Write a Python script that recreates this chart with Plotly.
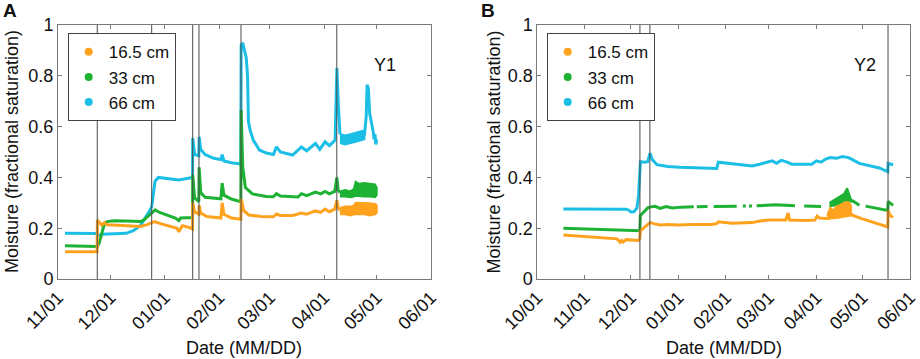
import plotly.graph_objects as go

# ---------------- colours ----------------
C16 = "#FFA31F"
C33 = "#1DB233"
C66 = "#1BBFE5"
VLINE = "#4a4a4a"
FONT = "Liberation Sans, Arial, Helvetica, sans-serif"

labels = ["16.5 cm", "33 cm", "66 cm"]
y_tickvals = [0, 0.2, 0.4, 0.6, 0.8, 1.0]
y_ticktext = ["0", "0.2", "0.4", "0.6", "0.8", "1"]

# ---------------- Y1 (panel A) ----------------
y1_months = ["2019-11-01", "2019-12-01", "2020-01-01", "2020-02-01", "2020-03-01",
             "2020-04-01", "2020-05-01", "2020-06-01"]
y1_events = ["2019-11-23 10:00", "2019-12-24 12:00", "2020-01-16 22:00",
             "2020-01-20 12:00", "2020-02-13 12:00", "2020-04-08 05:00"]

y1_16 = [("2019-11-05", 0.107), ("2019-11-23 08:00", 0.107), ("2019-11-23 12:00", 0.232),
         ("2019-11-24 12:00", 0.222), ("2019-11-26", 0.212), ("2019-11-27 12:00", 0.222),
         ("2019-11-29", 0.214), ("2019-12-05", 0.212), ("2019-12-12", 0.208), ("2019-12-18", 0.207),
         ("2019-12-22", 0.214), ("2019-12-24 12:00", 0.222), ("2019-12-26", 0.226),
         ("2019-12-30", 0.217), ("2020-01-04", 0.208), ("2020-01-08", 0.20), ("2020-01-09", 0.186),
         ("2020-01-10", 0.20), ("2020-01-11", 0.21), ("2020-01-14", 0.205), ("2020-01-16 20:00", 0.197),
         ("2020-01-16 22:00", 0.30), ("2020-01-18", 0.265), ("2020-01-20 10:00", 0.255),
         ("2020-01-20 14:00", 0.29), ("2020-01-21 12:00", 0.26), ("2020-01-25", 0.246),
         ("2020-02-02", 0.24), ("2020-02-02 18:00", 0.30), ("2020-02-03 18:00", 0.255),
         ("2020-02-08", 0.24), ("2020-02-13 10:00", 0.235), ("2020-02-13 14:00", 0.315),
         ("2020-02-15", 0.27), ("2020-02-18", 0.252), ("2020-02-25", 0.246), ("2020-03-03", 0.245),
         ("2020-03-04 18:00", 0.256), ("2020-03-07", 0.25), ("2020-03-14", 0.25), ("2020-03-19", 0.26),
         ("2020-03-22", 0.255), ("2020-03-27", 0.268), ("2020-03-30", 0.262), ("2020-04-01 12:00", 0.275),
         ("2020-04-04", 0.265), ("2020-04-07", 0.275), ("2020-04-08 06:00", 0.31), ("2020-04-09", 0.28),
         ("2020-04-10", 0.27)]
y1_33 = [("2019-11-05", 0.131), ("2019-11-23 08:00", 0.128), ("2019-11-24 12:00", 0.14),
         ("2019-11-25 12:00", 0.165), ("2019-11-26 12:00", 0.20), ("2019-11-27 12:00", 0.218),
         ("2019-11-29", 0.226), ("2019-12-03", 0.229), ("2019-12-10", 0.228), ("2019-12-18", 0.226),
         ("2019-12-20", 0.232), ("2019-12-22", 0.245), ("2019-12-24 12:00", 0.262),
         ("2019-12-26 12:00", 0.272), ("2019-12-29", 0.262), ("2020-01-02", 0.252), ("2020-01-07", 0.24),
         ("2020-01-09", 0.23), ("2020-01-10", 0.24), ("2020-01-16 20:00", 0.242),
         ("2020-01-16 22:00", 0.41), ("2020-01-18", 0.32), ("2020-01-20 10:00", 0.305),
         ("2020-01-20 14:00", 0.44), ("2020-01-21 12:00", 0.34), ("2020-01-24", 0.322),
         ("2020-02-02", 0.316), ("2020-02-02 18:00", 0.377), ("2020-02-03 18:00", 0.33),
         ("2020-02-08", 0.315), ("2020-02-13 10:00", 0.304), ("2020-02-13 14:00", 0.665),
         ("2020-02-14 12:00", 0.44), ("2020-02-16", 0.36), ("2020-02-20", 0.335), ("2020-02-28", 0.325),
         ("2020-03-03", 0.324), ("2020-03-04 18:00", 0.336), ("2020-03-07", 0.327), ("2020-03-17", 0.323),
         ("2020-03-19", 0.336), ("2020-03-22", 0.328), ("2020-03-27", 0.342), ("2020-03-30", 0.335),
         ("2020-04-01 12:00", 0.345), ("2020-04-04", 0.335), ("2020-04-07", 0.345),
         ("2020-04-08 06:00", 0.40), ("2020-04-09", 0.35), ("2020-04-10", 0.34)]
y1_66 = [("2019-11-05", 0.18), ("2019-11-15", 0.18), ("2019-11-23", 0.179), ("2019-11-24", 0.172),
         ("2019-11-26", 0.176), ("2019-12-10", 0.18), ("2019-12-14", 0.19), ("2019-12-18", 0.21),
         ("2019-12-21", 0.24), ("2019-12-23", 0.265), ("2019-12-24 12:00", 0.285),
         ("2019-12-25 12:00", 0.34), ("2019-12-26 10:00", 0.385), ("2019-12-28 08:00", 0.40),
         ("2020-01-05", 0.395), ("2020-01-09", 0.39), ("2020-01-16 20:00", 0.40),
         ("2020-01-16 22:00", 0.555), ("2020-01-18", 0.49), ("2020-01-20 10:00", 0.485),
         ("2020-01-20 14:00", 0.56), ("2020-01-21 12:00", 0.51), ("2020-01-24", 0.49),
         ("2020-01-29", 0.475), ("2020-02-02", 0.47), ("2020-02-02 18:00", 0.49),
         ("2020-02-03 18:00", 0.465), ("2020-02-08", 0.458), ("2020-02-13 10:00", 0.453),
         ("2020-02-13 14:00", 0.92), ("2020-02-14 12:00", 0.93), ("2020-02-15 12:00", 0.905),
         ("2020-02-16 12:00", 0.87), ("2020-02-17 06:00", 0.80), ("2020-02-17 18:00", 0.62),
         ("2020-02-18 16:00", 0.587), ("2020-02-20 12:00", 0.547), ("2020-02-24", 0.508),
         ("2020-02-28", 0.496), ("2020-03-03", 0.49), ("2020-03-04 18:00", 0.52), ("2020-03-07", 0.50),
         ("2020-03-14", 0.488), ("2020-03-19", 0.52), ("2020-03-22", 0.505), ("2020-03-27", 0.534),
         ("2020-03-29 12:00", 0.51), ("2020-04-01 12:00", 0.54), ("2020-04-04", 0.525),
         ("2020-04-07 06:00", 0.547), ("2020-04-08 06:00", 0.83), ("2020-04-09", 0.70),
         ("2020-04-10", 0.57)]
y1_66_tail = [("2020-04-24", 0.565), ("2020-04-25", 0.64), ("2020-04-25 12:00", 0.765),
              ("2020-04-26 06:00", 0.75), ("2020-04-27", 0.65), ("2020-04-28", 0.62),
              ("2020-04-29", 0.58), ("2020-04-29 12:00", 0.55), ("2020-04-30", 0.57),
              ("2020-04-30 12:00", 0.53), ("2020-05-01", 0.55)]

# noisy bands (date, lower, upper)
y1_16_band = [("2020-04-10", 0.255, 0.28), ("2020-04-13", 0.255, 0.285), ("2020-04-16", 0.25, 0.285),
              ("2020-04-18", 0.255, 0.29), ("2020-04-19", 0.255, 0.30), ("2020-04-21", 0.255, 0.30),
              ("2020-04-24", 0.255, 0.30), ("2020-04-27", 0.25, 0.298), ("2020-04-30", 0.255, 0.295),
              ("2020-05-01", 0.26, 0.29)]
y1_33_band = [("2020-04-10", 0.325, 0.345), ("2020-04-13", 0.325, 0.35), ("2020-04-16", 0.322, 0.345),
              ("2020-04-18", 0.325, 0.355), ("2020-04-19", 0.328, 0.383), ("2020-04-21", 0.326, 0.375),
              ("2020-04-24", 0.325, 0.378), ("2020-04-27", 0.325, 0.375), ("2020-04-30", 0.322, 0.372),
              ("2020-05-01", 0.33, 0.36)]
y1_66_band = [("2020-04-10", 0.535, 0.57), ("2020-04-13", 0.53, 0.565), ("2020-04-16", 0.535, 0.57),
              ("2020-04-19", 0.54, 0.575), ("2020-04-22", 0.545, 0.58), ("2020-04-24", 0.55, 0.585)]

# ---------------- Y2 (panel B) ----------------
y2_months = ["2020-10-01", "2020-11-01", "2020-12-01", "2021-01-01", "2021-02-01", "2021-03-01",
             "2021-04-01", "2021-05-01", "2021-06-01"]
y2_events = ["2020-12-06 22:00", "2020-12-13 10:00", "2021-05-17 16:00"]

y2_16 = [("2020-10-18", 0.173), ("2020-11-01", 0.168), ("2020-11-15", 0.162), ("2020-11-22", 0.158),
         ("2020-11-24", 0.145), ("2020-11-25", 0.152), ("2020-11-26", 0.146), ("2020-11-28", 0.155),
         ("2020-12-06", 0.152), ("2020-12-06 20:00", 0.16), ("2020-12-07 04:00", 0.19),
         ("2020-12-09", 0.20), ("2020-12-12", 0.215), ("2020-12-13 12:00", 0.222), ("2020-12-16", 0.218),
         ("2020-12-20", 0.213), ("2020-12-25", 0.215), ("2021-01-01", 0.213), ("2021-01-10", 0.215),
         ("2021-01-22", 0.215), ("2021-01-26", 0.218), ("2021-01-27", 0.225), ("2021-02-05", 0.22),
         ("2021-02-18", 0.222), ("2021-02-23", 0.228), ("2021-03-01", 0.232), ("2021-03-12", 0.232),
         ("2021-03-13 12:00", 0.26), ("2021-03-14 12:00", 0.232), ("2021-03-25", 0.23),
         ("2021-03-31", 0.232), ("2021-04-01 12:00", 0.248), ("2021-04-03", 0.24), ("2021-04-08", 0.238)]
y2_16_tail = [("2021-04-23 12:00", 0.26), ("2021-04-24", 0.252), ("2021-05-01", 0.237),
              ("2021-05-10", 0.218), ("2021-05-17 12:00", 0.205), ("2021-05-17 18:00", 0.27),
              ("2021-05-19", 0.25), ("2021-05-21", 0.243)]
y2_33 = [("2020-10-18", 0.20), ("2020-11-10", 0.196), ("2020-12-01", 0.192), ("2020-12-06 20:00", 0.19),
         ("2020-12-07 04:00", 0.25), ("2020-12-09", 0.262), ("2020-12-12", 0.28), ("2020-12-14", 0.284),
         ("2020-12-17", 0.286), ("2020-12-20", 0.278), ("2020-12-24", 0.285), ("2020-12-28", 0.28),
         ("2021-01-03", 0.283), ("2021-01-11", 0.284), None, ("2021-01-13", 0.284),
         ("2021-01-20", 0.285), None, ("2021-01-24", 0.285), ("2021-02-08", 0.286), None,
         ("2021-02-12", 0.287), ("2021-02-14", 0.287), None, ("2021-02-16", 0.287),
         ("2021-02-18", 0.287), None, ("2021-02-21", 0.288), ("2021-03-05", 0.292),
         ("2021-03-18", 0.288), None, ("2021-03-24", 0.287), ("2021-04-04", 0.285), None,
         ("2021-04-09 12:00", 0.29)]
y2_33_tail = [("2021-04-24", 0.31), ("2021-04-29", 0.29), None, ("2021-05-03", 0.287),
              ("2021-05-10", 0.278), ("2021-05-17 12:00", 0.27), ("2021-05-17 18:00", 0.305),
              ("2021-05-21", 0.29)]
y2_66 = [("2020-10-18", 0.276), ("2020-11-15", 0.275), ("2020-11-28", 0.275), ("2020-11-30", 0.27),
         ("2020-12-01", 0.264), ("2020-12-03", 0.265), ("2020-12-05", 0.28), ("2020-12-06", 0.33),
         ("2020-12-06 20:00", 0.42), ("2020-12-07 06:00", 0.462), ("2020-12-10", 0.46),
         ("2020-12-12", 0.462), ("2020-12-13 12:00", 0.495), ("2020-12-15", 0.47), ("2020-12-18", 0.45),
         ("2020-12-25", 0.443), ("2021-01-02", 0.44), ("2021-01-15", 0.437), ("2021-01-26", 0.435),
         ("2021-01-27", 0.46), ("2021-02-03", 0.455), ("2021-02-18", 0.445), ("2021-02-23", 0.452),
         ("2021-02-27", 0.46), ("2021-03-03", 0.465), ("2021-03-06", 0.456), ("2021-03-09", 0.467),
         ("2021-03-12", 0.462), ("2021-03-16", 0.452), ("2021-03-29", 0.452), ("2021-04-01", 0.465),
         ("2021-04-04", 0.46), ("2021-04-07", 0.472), ("2021-04-10", 0.478), ("2021-04-14", 0.475),
         ("2021-04-18", 0.482), ("2021-04-22", 0.478), ("2021-04-29", 0.455), ("2021-05-07", 0.445),
         ("2021-05-12", 0.437), ("2021-05-17 12:00", 0.422), ("2021-05-17 18:00", 0.455),
         ("2021-05-21", 0.45)]
y2_16_band = [("2021-04-08", 0.235, 0.25), ("2021-04-10", 0.238, 0.28), ("2021-04-12", 0.24, 0.27),
              ("2021-04-14", 0.24, 0.285), ("2021-04-16", 0.242, 0.29), ("2021-04-18", 0.245, 0.298),
              ("2021-04-20", 0.245, 0.303), ("2021-04-22", 0.248, 0.302), ("2021-04-23 12:00", 0.25, 0.29)]
y2_33_band = [("2021-04-09 12:00", 0.285, 0.30), ("2021-04-12", 0.29, 0.31), ("2021-04-15", 0.292, 0.32),
              ("2021-04-17", 0.295, 0.33), ("2021-04-19", 0.30, 0.335), ("2021-04-21", 0.30, 0.357),
              ("2021-04-22", 0.305, 0.34), ("2021-04-23", 0.305, 0.32), ("2021-04-24", 0.305, 0.31)]


def unzip(pts):
    xs = [p[0] if p is not None else None for p in pts]
    ys = [p[1] if p is not None else None for p in pts]
    return xs, ys


fig = go.Figure()


def add_line(pts, color, ax):
    xs, ys = unzip(pts)
    fig.add_trace(go.Scatter(x=xs, y=ys, mode="lines", line=dict(color=color, width=3),
                             xaxis="x" if ax == 1 else "x2", yaxis="y" if ax == 1 else "y2",
                             showlegend=False, hoverinfo="skip"))


def add_band(rows, color, ax):
    d = [r[0] for r in rows]
    lo = [r[1] for r in rows]
    hi = [r[2] for r in rows]
    fig.add_trace(go.Scatter(x=d + d[::-1], y=hi + lo[::-1], mode="lines", fill="toself",
                             fillcolor=color, line=dict(color=color, width=2),
                             xaxis="x" if ax == 1 else "x2", yaxis="y" if ax == 1 else "y2",
                             showlegend=False, hoverinfo="skip"))


# panel A
add_line(y1_66, C66, 1); add_band(y1_66_band, C66, 1); add_line(y1_66_tail, C66, 1)
add_line(y1_33, C33, 1); add_band(y1_33_band, C33, 1)
add_line(y1_16, C16, 1); add_band(y1_16_band, C16, 1)
# panel B
add_line(y2_66, C66, 2)
add_line(y2_33, C33, 2); add_band(y2_33_band, C33, 2); add_line(y2_33_tail, C33, 2)
add_line(y2_16, C16, 2); add_band(y2_16_band, C16, 2); add_line(y2_16_tail, C16, 2)

# legend entries
for lg, ax in (("legend", 1), ("legend2", 2)):
    for name, col in zip(labels, [C16, C33, C66]):
        fig.add_trace(go.Scatter(x=[None], y=[None], mode="markers", name=name,
                                 marker=dict(color=col, size=8),
                                 xaxis="x" if ax == 1 else "x2", yaxis="y" if ax == 1 else "y2",
                                 legend=lg, showlegend=True))

# event lines
for d in y1_events:
    fig.add_shape(type="line", xref="x", yref="y", x0=d, x1=d, y0=0, y1=1,
                  line=dict(color=VLINE, width=1))
for d in y2_events:
    fig.add_shape(type="line", xref="x2", yref="y2", x0=d, x1=d, y0=0, y1=1,
                  line=dict(color=VLINE, width=1))

axis_common = dict(showline=True, linecolor="#7a7a7a", linewidth=1, mirror="ticks",
                   ticks="inside", ticklen=4, tickcolor="#7a7a7a", showgrid=False, zeroline=False,
                   automargin=False,
                   tickfont=dict(size=18, color="#111", family=FONT))

legend_common = dict(xanchor="left", yanchor="top", bordercolor="#444", borderwidth=1,
                     bgcolor="white", tracegroupgap=0,
                     font=dict(size=17, family=FONT, color="#111"))

y_dom = [0.2228, 0.9304]
fig.update_layout(
    width=920, height=359, margin=dict(l=0, r=0, t=0, b=0, pad=0, autoexpand=False),
    autosize=False,
    paper_bgcolor="white", plot_bgcolor="white",
    font=dict(family=FONT, size=18, color="#111"),
    xaxis=dict(domain=[58 / 920, 431 / 920], anchor="y", type="date",
               range=[y1_months[0], y1_months[-1]], tickvals=y1_months, tickformat="%m/%d",
               tickangle=-45, **axis_common),
    yaxis=dict(domain=y_dom, anchor="x", range=[0, 1], tickvals=y_tickvals, ticktext=y_ticktext,
               **axis_common),
    xaxis2=dict(domain=[537.3 / 920, 910 / 920], anchor="y2", type="date",
                range=[y2_months[0], y2_months[-1]], tickvals=y2_months, tickformat="%m/%d",
                tickangle=-45, **axis_common),
    yaxis2=dict(domain=y_dom, anchor="x2", range=[0, 1], tickvals=y_tickvals, ticktext=y_ticktext,
                **axis_common),
    legend=dict(x=67.7 / 920, y=(359 - 33.3) / 359, **legend_common),
    legend2=dict(x=546.7 / 920, y=(359 - 33.3) / 359, **legend_common),
)

ann = [
    dict(text="<b>A</b>", x=1 / 920, y=(359 - 11) / 359, xanchor="left", yanchor="middle", font=dict(size=19)),
    dict(text="<b>B</b>", x=479 / 920, y=(359 - 11) / 359, xanchor="left", yanchor="middle", font=dict(size=19)),
    dict(text="Y1", x=385 / 920, y=(359 - 65) / 359, xanchor="center", yanchor="middle"),
    dict(text="Y2", x=865 / 920, y=(359 - 65) / 359, xanchor="center", yanchor="middle"),
    dict(text="Moisture (fractional saturation)", x=12 / 920, y=(359 - 152) / 359, textangle=-90,
         xanchor="center", yanchor="middle"),
    dict(text="Moisture (fractional saturation)", x=493.5 / 920, y=(359 - 152) / 359, textangle=-90,
         xanchor="center", yanchor="middle"),
    dict(text="Date (MM/DD)", x=243.5 / 920, y=(359 - 348) / 359, xanchor="center", yanchor="middle"),
    dict(text="Date (MM/DD)", x=723.5 / 920, y=(359 - 348) / 359, xanchor="center", yanchor="middle"),
]
for a in ann:
    a.update(xref="paper", yref="paper", showarrow=False)
    a.setdefault("font", {})
    a["font"] = dict(family=FONT, color="#111", size=a["font"].get("size", 18))
    fig.add_annotation(**a)

fig.write_html("out.html", config={"displayModeBar": False},
               post_script="document.body.style.margin='0';document.body.style.overflow='hidden';")
